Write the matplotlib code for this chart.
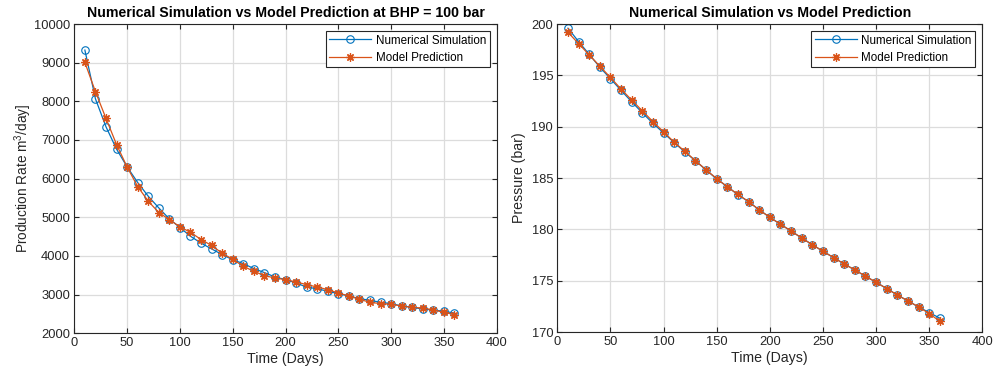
import matplotlib.pyplot as plt
import numpy as np

plt.rcParams['font.family'] = ['Liberation Sans', 'DejaVu Sans']
plt.rcParams['mathtext.fontset'] = 'custom'
plt.rcParams['mathtext.rm'] = 'Liberation Sans'
plt.rcParams['mathtext.it'] = 'Liberation Sans'

days = [10, 20, 30, 40, 50, 60, 70, 80, 90, 100, 110, 120, 130, 140, 150, 160, 170, 180,
        190, 200, 210, 220, 230, 240, 250, 260, 270, 280, 290, 300, 310, 320, 330, 340, 350, 360]

# production rate at BHP = 100 bar
sim_rate = [9326, 8065, 7340, 6762, 6303, 5899, 5544, 5241, 4956, 4733, 4508, 4330, 4180, 4034, 3900, 3800,
            3671, 3567, 3454, 3385, 3300, 3190, 3150, 3083, 3023, 2962, 2894, 2850, 2798, 2764, 2703, 2668,
            2624, 2599, 2565, 2521]
model_rate = [9007, 8250, 7557, 6880, 6300, 5795, 5415, 5122, 4940, 4750, 4611, 4422, 4270, 4068, 3912, 3731,
              3601, 3489, 3428, 3385, 3325, 3256, 3195, 3126, 3040, 2962, 2876, 2798, 2764, 2746, 2703, 2668,
              2650, 2599, 2539, 2479]

# pressure
sim_p = [199.6, 198.3, 197.05, 195.8, 194.68, 193.54, 192.43, 191.36, 190.33, 189.4, 188.45, 187.55,
         186.68, 185.79, 184.91, 184.16, 183.38, 182.7, 181.9, 181.18, 180.5, 179.84, 179.16, 178.51,
         177.87, 177.25, 176.63, 176.05, 175.43, 174.85, 174.23, 173.61, 173.03, 172.44, 171.9, 171.35]
model_p = [199.2, 198.1, 197.0, 195.9, 194.8, 193.67, 192.6, 191.55, 190.5, 189.5, 188.5, 187.6,
           186.7, 185.8, 184.95, 184.15, 183.4, 182.7, 181.9, 181.18, 180.5, 179.84, 179.16, 178.51,
           177.87, 177.25, 176.63, 176.05, 175.45, 174.85, 174.23, 173.61, 173.03, 172.45, 171.8, 171.05]

blue = '#0072BD'
orange = '#D95319'
dark = '#262626'
asterisk = (8, 2, 0)  # matlab style '*'


def style_axes(ax, ylim, yticks):
    ax.set_xlim(0, 400)
    ax.set_xticks(np.arange(0, 401, 50))
    ax.set_ylim(*ylim)
    ax.set_yticks(yticks)
    ax.grid(True, color='#dcdcdc', linewidth=0.9)
    ax.set_axisbelow(True)
    ax.tick_params(direction='in', top=True, right=True, length=3.5, width=0.8,
                   labelsize=9.3, colors=dark, pad=3)
    for sp in ax.spines.values():
        sp.set_color(dark)
        sp.set_linewidth(0.8)
    leg = ax.legend(['Numerical Simulation', 'Model Prediction'], loc='upper right', fontsize=8.4,
                    fancybox=False, framealpha=1, edgecolor=dark, borderaxespad=0.6,
                    handlelength=3.6, borderpad=0.3, labelspacing=0.45, handletextpad=0.4)
    leg.get_frame().set_linewidth(0.8)


def draw_pair(ax, sim, model):
    ax.plot(days, sim, '-', marker='o', color=blue, linewidth=0.9, markersize=5.4,
            markerfacecolor='none', markeredgewidth=0.8)
    ax.plot(days, model, '-', marker=asterisk, color=orange, linewidth=0.9, markersize=6,
            markeredgewidth=0.9)


fig = plt.figure(figsize=(9.95, 3.76), dpi=100)

ax1 = fig.add_axes([0.0747, 0.114, 0.4245, 0.822])
draw_pair(ax1, sim_rate, model_rate)
style_axes(ax1, (2000, 10000), np.arange(2000, 10001, 1000))
ax1.set_title('Numerical Simulation vs Model Prediction at BHP = 100 bar', fontsize=10.2,
              fontweight='bold', pad=5)
ax1.set_xlabel('Time (Days)', fontsize=10.2, color=dark, labelpad=2)
ax1.set_ylabel('Production Rate m$^3$/day]', fontsize=9.8, color=dark, labelpad=0)

ax2 = fig.add_axes([0.5601, 0.117, 0.4271, 0.819])
draw_pair(ax2, sim_p, model_p)
style_axes(ax2, (170, 200), np.arange(170, 201, 5))
ax2.set_title('Numerical Simulation vs Model Prediction', fontsize=10.2, fontweight='bold', pad=5)
ax2.set_xlabel('Time (Days)', fontsize=10.2, color=dark, labelpad=2)
ax2.set_ylabel('Pressure (bar)', fontsize=10.2, color=dark, labelpad=4)

plt.savefig('out.png', dpi=100)
